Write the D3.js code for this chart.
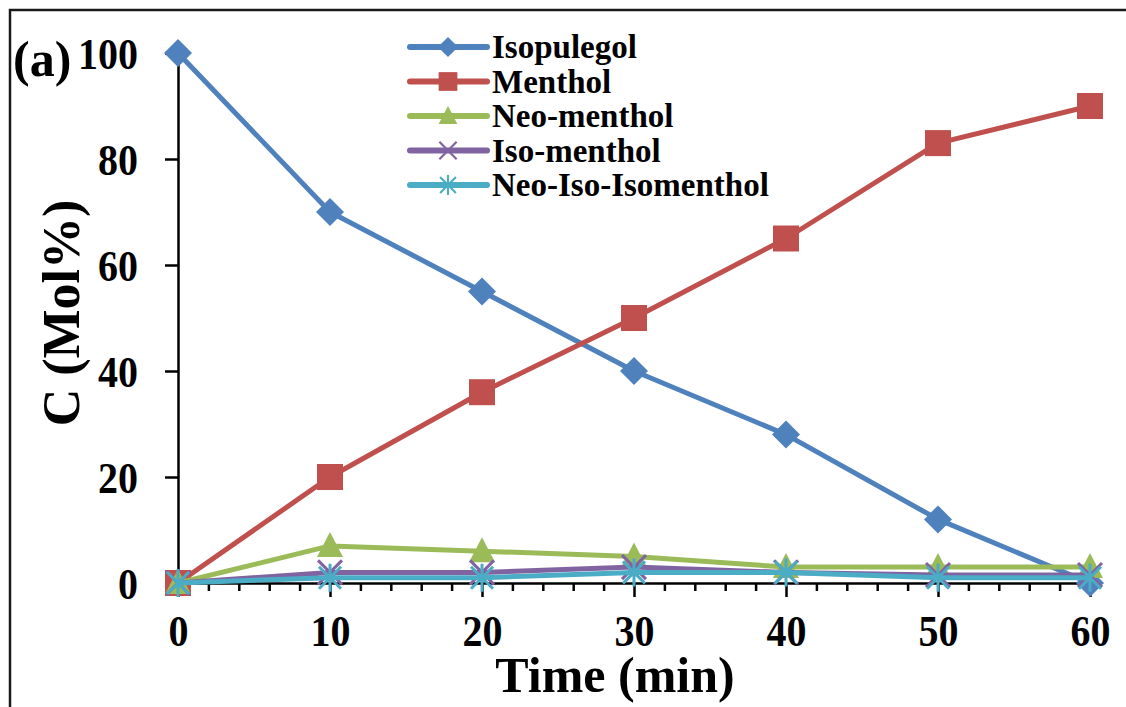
<!DOCTYPE html>
<html>
<head>
<meta charset="utf-8">
<script src="https://cdnjs.cloudflare.com/ajax/libs/d3/7.8.5/d3.min.js"></script>
<style>
  body { margin: 0; background: #fff; }
  text { font-family: "Liberation Serif", "Times New Roman", serif; font-weight: bold; fill: #000; }
</style>
</head>
<body>
<div id="chart"></div>
<script>
// ---------- data ----------
var times = [0, 10, 20, 30, 40, 50, 60];
var isopulegol = [100, 70, 55, 40, 28, 12, 0];
var menthol = [0, 20, 36, 50, 65, 83, 90];
var neoMenthol = [0, 7, 6, 5, 3, 3, 3];
var isoMenthol = [0, 2, 2, 3, 2, 1.5, 1.5];
var neoIsoIsomenthol = [0, 1, 1, 2, 2, 1, 1];
var seriesNames = ['Isopulegol', 'Menthol', 'Neo-menthol', 'Iso-menthol', 'Neo-Iso-Isomenthol'];
var xTicks = [0, 10, 20, 30, 40, 50, 60];
var yTicks = [0, 20, 40, 60, 80, 100];

// ---------- settings ----------
var attrs = {
  svgWidth: 1126,
  svgHeight: 707,
  plotLeft: 178,
  plotRight: 1090,
  plotTop: 53,
  plotBottom: 583,
  lineWidth: 5,
  axisWidth: 2.5,
  textStretch: 1.1,
  colors: ['#4F81BD', '#C0504D', '#9BBB59', '#8064A2', '#4BACC6'],
  markers: ['diamond', 'square', 'triangle', 'times', 'star']
};

var series = [isopulegol, menthol, neoMenthol, isoMenthol, neoIsoIsomenthol].map(function (vals, i) {
  return {
    name: seriesNames[i],
    color: attrs.colors[i],
    marker: attrs.markers[i],
    values: vals.map(function (v, j) { return { t: times[j], c: v }; })
  };
});

// ---------- scales ----------
var x = d3.scaleLinear().domain([0, 60]).range([attrs.plotLeft, attrs.plotRight]);
var y = d3.scaleLinear().domain([0, 100]).range([attrs.plotBottom, attrs.plotTop]);

var svg = d3.select('#chart').append('svg')
  .attr('width', attrs.svgWidth)
  .attr('height', attrs.svgHeight);

// outer frame (left and top edges only are visible)
svg.append('path')
  .attr('d', 'M10,' + attrs.svgHeight + 'L10,10L' + attrs.svgWidth + ',10')
  .attr('fill', 'none')
  .attr('stroke', '#1a1a1a')
  .attr('stroke-width', 2.5);

// marker shapes, k = scale factor
function drawMarker(g, type, color, k) {
  if (type === 'diamond') {
    var r = 14 * k;
    g.append('path').attr('d', 'M0,' + (-r) + 'L' + r + ',0L0,' + r + 'L' + (-r) + ',0Z').attr('fill', color);
  } else if (type === 'square') {
    var s = 13 * k;
    g.append('rect').attr('x', -s).attr('y', -s).attr('width', 2 * s).attr('height', 2 * s).attr('fill', color);
  } else if (type === 'triangle') {
    g.append('path').attr('d', 'M0,' + (-14 * k) + 'L' + (13 * k) + ',' + (11 * k) + 'L' + (-13 * k) + ',' + (11 * k) + 'Z').attr('fill', color);
  } else if (type === 'times') {
    var a = 12 * k;
    g.append('path').attr('d', 'M' + (-a) + ',' + (-a) + 'L' + a + ',' + a + 'M' + (-a) + ',' + a + 'L' + a + ',' + (-a))
      .attr('stroke', color).attr('stroke-width', 3 * k).attr('fill', 'none');
  } else if (type === 'star') {
    var v = 14 * k, d = 11 * k;
    g.append('path').attr('d', 'M0,' + (-v) + 'L0,' + v + 'M' + (-d) + ',' + (-d) + 'L' + d + ',' + d + 'M' + (-d) + ',' + d + 'L' + d + ',' + (-d))
      .attr('stroke', color).attr('stroke-width', 3 * k).attr('fill', 'none');
  }
}

// ---------- axes ----------
var minorTicks = d3.range(0, 61, 2).filter(function (d) { return d % 10 !== 0; });

var xMinor = svg.append('g')
  .attr('transform', 'translate(0,' + attrs.plotBottom + ')')
  .call(d3.axisBottom(x).tickValues(minorTicks).tickSize(8).tickSizeOuter(0).tickFormat(''));
xMinor.select('.domain').remove();

var xAxis = svg.append('g')
  .attr('transform', 'translate(0,' + attrs.plotBottom + ')')
  .call(d3.axisBottom(x).tickValues(xTicks).tickSize(14).tickSizeOuter(0));

var yAxis = svg.append('g')
  .attr('transform', 'translate(' + attrs.plotLeft + ',0)')
  .call(d3.axisLeft(y).tickValues(yTicks).tickSize(13).tickSizeOuter(0));

svg.selectAll('.domain, .tick line')
  .attr('stroke', '#000')
  .attr('stroke-width', attrs.axisWidth);

xAxis.selectAll('.tick text')
  .attr('y', 0).attr('dy', 0)
  .attr('font-size', 40)
  .attr('transform', 'translate(0,' + 63 + ') scale(1,' + attrs.textStretch + ')');

yAxis.selectAll('.tick text')
  .attr('x', 0).attr('dy', 0)
  .attr('font-size', 40)
  .attr('text-anchor', 'end')
  .attr('transform', 'translate(-40,15) scale(1,' + attrs.textStretch + ')');

svg.selectAll('.tick text').attr('fill', '#000').style('font-family', '"Liberation Serif", serif').style('font-weight', 'bold');

// ---------- series ----------
var line = d3.line()
  .x(function (d) { return x(d.t); })
  .y(function (d) { return y(d.c); });

series.forEach(function (s) {
  var g = svg.append('g').attr('class', 'series');
  g.append('path')
    .datum(s.values)
    .attr('d', line)
    .attr('fill', 'none')
    .attr('stroke', s.color)
    .attr('stroke-width', attrs.lineWidth)
    .attr('stroke-linejoin', 'round');
  g.selectAll('.pt').data(s.values).enter().append('g')
    .attr('class', 'pt')
    .attr('transform', function (d) { return 'translate(' + x(d.t) + ',' + y(d.c) + ')'; })
    .each(function () { drawMarker(d3.select(this), s.marker, s.color, 1); });
});

// ---------- legend ----------
var legend = svg.append('g').attr('transform', 'translate(410,47)');
var items = legend.selectAll('.legend-item').data(series).enter().append('g')
  .attr('class', 'legend-item')
  .attr('transform', function (d, i) { return 'translate(0,' + (i * 34.5) + ')'; });

items.append('line')
  .attr('x1', 0).attr('x2', 77)
  .attr('stroke', function (d) { return d.color; })
  .attr('stroke-width', 6)
  .attr('stroke-linecap', 'round');

items.each(function (d) {
  var m = d3.select(this).append('g').attr('transform', 'translate(38,0)');
  drawMarker(m, d.marker, d.color, 0.72);
});

items.append('text')
  .attr('x', 82)
  .attr('y', 11)
  .attr('font-size', 33)
  .text(function (d) { return d.name; });

// ---------- titles ----------
svg.append('text')
  .attr('transform', 'translate(615,692)')
  .attr('text-anchor', 'middle')
  .attr('font-size', 50)
  .text('Time (min)');

svg.append('text')
  .attr('transform', 'translate(79,313) rotate(-90)')
  .attr('text-anchor', 'middle')
  .attr('font-size', 52)
  .text('C (Mol%)');

svg.append('text')
  .attr('x', 13)
  .attr('y', 76)
  .attr('font-size', 50)
  .text('(a)');
</script>
</body>
</html>
